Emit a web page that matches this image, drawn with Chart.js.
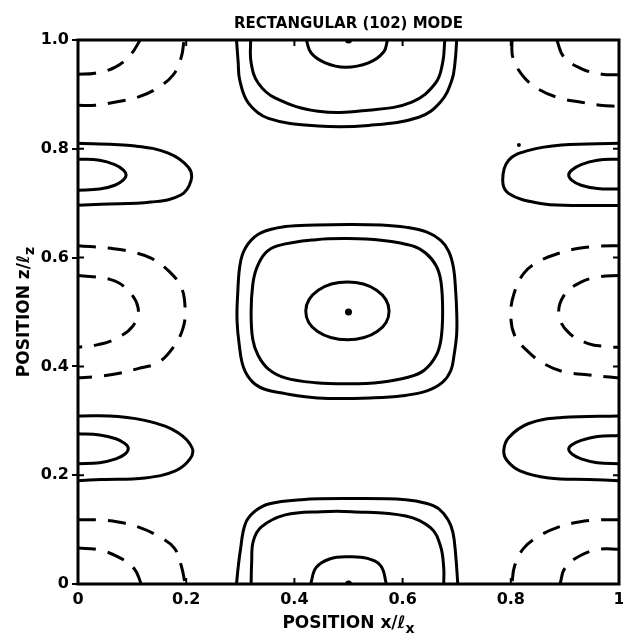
<!DOCTYPE html>
<html><head><meta charset="utf-8">
<script src="https://cdn.jsdelivr.net/npm/chart.js@4/dist/chart.umd.min.js"></script>
<style>html,body{margin:0;padding:0;background:#fff}</style>
</head><body>
<canvas id="c" width="623" height="635"></canvas>
<script>
// ---- text ----
const chartTitle = 'RECTANGULAR (102) MODE';
const xTitleParts = [['POSITION x/\u2113', false], ['x', true]];
const yTitleParts = [['POSITION z/\u2113', false], ['z', true]];
const xTickLabels = ['0', '0.2', '0.4', '0.6', '0.8', '1'];
const yTickLabels = ['0', '0.2', '0.4', '0.6', '0.8', '1.0'];

// ---- contour lines, [x/lx, z/lz] ----
// centre group (closed loops, listed once round)
const centerInner = [[0.498,0.555],[0.552,0.540],[0.575,0.502],[0.553,0.464],[0.498,0.449],[0.443,0.464],[0.421,0.502],[0.444,0.540]];
const centerMiddle = [[0.5,0.635],[0.56,0.632],[0.617,0.622],[0.643,0.608],[0.662,0.585],[0.671,0.555],[0.674,0.50],[0.671,0.45],[0.662,0.42],[0.640,0.393],[0.61,0.38],[0.56,0.371],[0.5,0.368],[0.44,0.37],[0.383,0.379],[0.352,0.395],[0.333,0.42],[0.323,0.45],[0.32,0.50],[0.323,0.55],[0.33,0.58],[0.346,0.608],[0.37,0.622],[0.44,0.633]];
const centerOuter = [[0.5,0.661],[0.56,0.66],[0.605,0.656],[0.645,0.647],[0.670,0.632],[0.685,0.612],[0.694,0.582],[0.698,0.54],[0.70,0.50],[0.70,0.46],[0.695,0.42],[0.689,0.392],[0.673,0.370],[0.645,0.355],[0.60,0.346],[0.54,0.342],[0.463,0.341],[0.42,0.344],[0.383,0.350],[0.345,0.358],[0.322,0.372],[0.306,0.398],[0.298,0.44],[0.294,0.484],[0.295,0.53],[0.301,0.595],[0.315,0.626],[0.339,0.646],[0.383,0.657],[0.44,0.66]];
// bottom group
const bottomOuter = [[0.293,0],[0.296,0.03],[0.300,0.061],[0.309,0.11],[0.325,0.132],[0.352,0.147],[0.413,0.155],[0.504,0.157],[0.606,0.155],[0.645,0.148],[0.667,0.138],[0.684,0.118],[0.693,0.095],[0.698,0.055],[0.702,0]];
const bottomMiddle = [[0.32,0],[0.321,0.04],[0.324,0.079],[0.339,0.105],[0.383,0.127],[0.45,0.133],[0.506,0.133],[0.606,0.125],[0.652,0.103],[0.670,0.070],[0.676,0.03],[0.676,0]];
const bottomInner = [[0.43,0],[0.44,0.03],[0.465,0.046],[0.5,0.05],[0.535,0.047],[0.56,0.033],[0.57,0]];
// top group
const topOuter = [[0.293,1],[0.296,0.96],[0.299,0.926],[0.315,0.884],[0.352,0.856],[0.444,0.842],[0.537,0.843],[0.63,0.858],[0.67,0.886],[0.691,0.926],[0.697,0.96],[0.70,1]];
const topMiddle = [[0.319,1],[0.32,0.958],[0.333,0.921],[0.365,0.893],[0.444,0.869],[0.537,0.871],[0.617,0.886],[0.661,0.921],[0.674,0.958],[0.678,1]];
const topInner = [[0.422,1],[0.431,0.976],[0.457,0.958],[0.494,0.950],[0.537,0.958],[0.565,0.978],[0.572,1]];
// left side, solid lobes
const leftLowerOuter = [[0,0.309],[0.074,0.308],[0.135,0.298],[0.185,0.278],[0.211,0.25],[0.207,0.23],[0.18,0.208],[0.124,0.195],[0.043,0.192],[0,0.19]];
const leftLowerInner = [[0,0.276],[0.04,0.274],[0.07,0.267],[0.087,0.258],[0.093,0.249],[0.087,0.239],[0.07,0.230],[0.04,0.223],[0,0.221]];
const leftUpperOuter = [[0,0.81],[0.106,0.805],[0.167,0.792],[0.204,0.766],[0.209,0.742],[0.19,0.715],[0.135,0.702],[0.043,0.698],[0,0.696]];
const leftUpperInner = [[0,0.781],[0.04,0.779],[0.068,0.771],[0.084,0.761],[0.089,0.752],[0.084,0.743],[0.068,0.733],[0.04,0.726],[0,0.724]];
// left side, dashed
const leftMidOuter = [[0,0.622],[0.061,0.617],[0.098,0.611],[0.135,0.599],[0.167,0.576],[0.191,0.545],[0.198,0.506],[0.194,0.47],[0.176,0.435],[0.148,0.407],[0.111,0.396],[0.074,0.387],[0.033,0.381],[0,0.379]];
const leftMidInner = [[0,0.567],[0.059,0.56],[0.089,0.543],[0.111,0.508],[0.102,0.475],[0.07,0.451],[0.037,0.44],[0,0.435]];
const leftBottomOuter = [[0,0.118],[0.037,0.118],[0.074,0.114],[0.111,0.105],[0.148,0.088],[0.178,0.066],[0.191,0.033],[0.198,0]];
const leftBottomInner = [[0,0.066],[0.037,0.063],[0.074,0.05],[0.104,0.028],[0.117,0]];
const leftTopOuter = [[0,0.88],[0.031,0.88],[0.07,0.886],[0.111,0.895],[0.144,0.91],[0.176,0.936],[0.191,0.969],[0.196,1]];
const leftTopInner = [[0,0.937],[0.031,0.939],[0.069,0.95],[0.098,0.974],[0.115,1]];
// right side, solid lobes
const rightUpperOuter = [[1,0.81],[0.894,0.807],[0.833,0.797],[0.796,0.779],[0.785,0.742],[0.796,0.718],[0.852,0.7],[0.913,0.696],[1,0.696]];
const rightUpperInner = [[1,0.781],[0.96,0.779],[0.93,0.771],[0.913,0.761],[0.907,0.752],[0.913,0.742],[0.93,0.733],[0.96,0.727],[1,0.726]];
const rightLowerOuter = [[1,0.309],[0.894,0.306],[0.833,0.295],[0.796,0.269],[0.787,0.245],[0.793,0.227],[0.817,0.208],[0.87,0.195],[0.944,0.192],[1,0.19]];
const rightLowerInner = [[1,0.273],[0.96,0.271],[0.93,0.264],[0.913,0.256],[0.907,0.248],[0.913,0.239],[0.93,0.230],[0.96,0.223],[1,0.221]];
// right side, dashed
const rightTopOuter = [[0.802,1],[0.804,0.967],[0.824,0.932],[0.854,0.908],[0.891,0.893],[0.928,0.886],[0.965,0.88],[1,0.878]];
const rightTopInner = [[0.885,1],[0.898,0.969],[0.931,0.947],[0.969,0.937],[1,0.936]];
const rightMidOuter = [[1,0.622],[0.963,0.621],[0.926,0.617],[0.889,0.608],[0.852,0.593],[0.824,0.571],[0.806,0.534],[0.8,0.497],[0.807,0.457],[0.83,0.429],[0.861,0.405],[0.898,0.39],[0.937,0.385],[0.976,0.381],[1,0.379]];
const rightMidInner = [[1,0.567],[0.965,0.565],[0.928,0.554],[0.898,0.53],[0.889,0.494],[0.907,0.462],[0.943,0.442],[0.981,0.436],[1,0.435]];
const rightBottomOuter = [[1,0.118],[0.963,0.118],[0.926,0.114],[0.889,0.105],[0.852,0.088],[0.824,0.066],[0.807,0.033],[0.802,0]];
const rightBottomInner = [[1,0.064],[0.965,0.064],[0.928,0.052],[0.9,0.029],[0.891,0]];
// centre dots and a speck
const centerDots = [[0.5,0.5],[0.5,1.0],[0.5,0.0]];
const specks = [[0.815,0.807]];

const closedCurves = [centerInner, centerMiddle, centerOuter];
const openSolidCurves = [bottomOuter, bottomMiddle, bottomInner,
  topOuter, topMiddle, topInner, leftLowerOuter, leftLowerInner, leftUpperOuter, leftUpperInner,
  rightUpperOuter, rightUpperInner, rightLowerOuter, rightLowerInner];
const dashedCurves = [leftMidOuter, leftMidInner, leftBottomOuter, leftBottomInner, leftTopOuter, leftTopInner,
  rightTopOuter, rightTopInner, rightMidOuter, rightMidInner, rightBottomOuter, rightBottomInner];

const FAMILY = "'DejaVu Sans','Liberation Sans',sans-serif";
const toPts = a => a.map(p => ({x: p[0], y: p[1]}));
const lineDs = (a, dashed, closed) => ({
  data: toPts(a), showLine: true, borderColor: '#000', borderWidth: 3,
  pointRadius: 0, pointHoverRadius: 0, tension: 0.4, fill: false,
  borderDash: dashed ? [18, 12] : [], borderCapStyle: 'butt', closedLoop: !!closed
});
const datasets = [
  ...closedCurves.map(a => lineDs(a, false, true)),
  ...openSolidCurves.map(a => lineDs(a, false)),
  ...dashedCurves.map(a => lineDs(a, true)),
  {data: toPts(centerDots), showLine: false, pointRadius: 3.5, pointBackgroundColor: '#000', pointBorderWidth: 0},
  {data: toPts(specks), showLine: false, pointRadius: 2, pointBackgroundColor: '#000', pointBorderWidth: 0}
];

// let the library close the loop lines (as it does for radar charts)
const closeLoops = {
  id: 'closeLoops',
  beforeDatasetsDraw(chart) {
    chart.data.datasets.forEach((ds, i) => {
      if (!ds.closedLoop) return;
      const line = chart.getDatasetMeta(i).dataset;
      if (!line) return;
      line._loop = true;
      line._fullLoop = true;
      line._pointsUpdated = false;
      delete line._segments;
      line._path = undefined;
      line.updateControlPoints(chart.chartArea, 'x');
    });
  }
};

function setFont(ctx, size) { ctx.font = 'bold ' + size + 'px ' + FAMILY; }
function drawParts(ctx, parts, size) {
  const subSize = Math.round(size * 0.8);
  let w = 0;
  parts.forEach(([t, sub]) => { setFont(ctx, sub ? subSize : size); w += ctx.measureText(t).width; });
  let x = -w / 2;
  parts.forEach(([t, sub]) => {
    setFont(ctx, sub ? subSize : size);
    ctx.fillText(t, x, sub ? 5 : 0);
    x += ctx.measureText(t).width;
  });
}

const decor = {
  id: 'decor',
  afterDraw(chart) {
    const {ctx, chartArea: a, scales} = chart;
    ctx.save();
    ctx.strokeStyle = '#000';
    ctx.fillStyle = '#000';
    ctx.lineWidth = 3;
    ctx.strokeRect(a.left, a.top, a.right - a.left, a.bottom - a.top);
    ctx.lineWidth = 2;
    [0.2, 0.4, 0.6, 0.8].forEach(v => {
      const px = scales.x.getPixelForValue(v), py = scales.y.getPixelForValue(v);
      ctx.beginPath();
      ctx.moveTo(px, a.bottom); ctx.lineTo(px, a.bottom - 6);
      ctx.moveTo(px, a.top); ctx.lineTo(px, a.top + 6);
      ctx.moveTo(a.left, py); ctx.lineTo(a.left + 6, py);
      ctx.moveTo(a.right, py); ctx.lineTo(a.right - 6, py);
      ctx.stroke();
    });
    ctx.textBaseline = 'alphabetic';
    ctx.save();
    ctx.translate((a.left + a.right) / 2, 28);
    drawParts(ctx, [[chartTitle, false]], 15);
    ctx.restore();
    ctx.save();
    ctx.translate((a.left + a.right) / 2, 628);
    drawParts(ctx, xTitleParts, 17);
    ctx.restore();
    ctx.save();
    ctx.translate(29, (a.top + a.bottom) / 2);
    ctx.rotate(-Math.PI / 2);
    drawParts(ctx, yTitleParts, 17);
    ctx.restore();
    ctx.restore();
  }
};

const tickFont = {family: FAMILY, size: 16, weight: 'bold'};

new Chart(document.getElementById('c'), {
  type: 'scatter',
  data: {datasets},
  options: {
    responsive: false, animation: false, devicePixelRatio: 1,
    layout: {padding: {top: 40, right: 3, left: 0, bottom: 0}},
    plugins: {legend: {display: false}, tooltip: {enabled: false}, title: {display: false}},
    scales: {
      x: {
        type: 'linear', min: 0, max: 1,
        afterFit: s => { s.height = 51; s.paddingRight = 0; s.paddingLeft = 0; },
        ticks: {stepSize: 0.2, color: '#000', padding: 6, maxRotation: 0, font: tickFont,
          callback: (v, i) => xTickLabels[i]},
        grid: {display: false, drawTicks: false},
        border: {display: false}
      },
      y: {
        type: 'linear', min: 0, max: 1,
        afterFit: s => { s.width = 78; s.paddingTop = 0; s.paddingBottom = 0; },
        ticks: {stepSize: 0.2, color: '#000', padding: 3, font: tickFont,
          callback: (v, i) => yTickLabels[i]},
        grid: {display: true, drawOnChartArea: false, drawTicks: true, tickLength: 6, color: '#000', lineWidth: 2},
        border: {display: false}
      }
    }
  },
  plugins: [closeLoops, decor]
});
</script>
</body></html>
